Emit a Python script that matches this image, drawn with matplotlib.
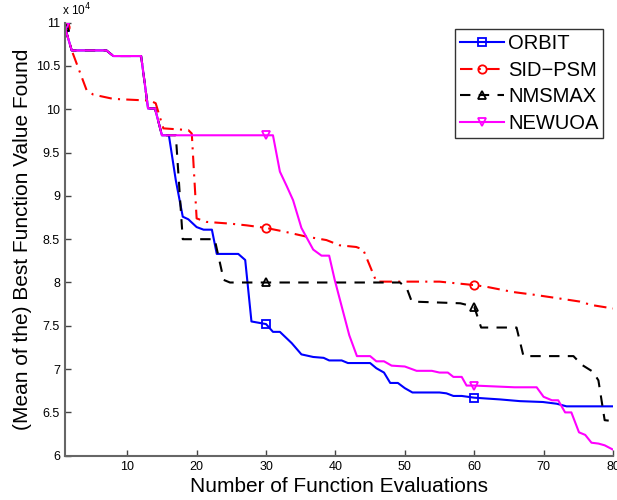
import matplotlib
matplotlib.use("Agg")
import matplotlib.pyplot as plt

plt.rcParams['font.family'] = ['Liberation Sans', 'DejaVu Sans']

# values in units of 1e4
orbit_x = [1, 2, 7, 8, 12, 13, 14, 15, 16, 17, 18, 18.8, 20, 21, 22.2, 22.9, 26, 27, 27.9, 30, 31, 32, 33.7,
           35.1, 36.8, 38.3, 39.1, 40.9, 41.8, 45, 45.9, 47, 47.9, 49, 50, 51.1, 55, 56, 57, 58.2, 60, 61.8,
           63.7, 66.6, 69.9, 71.9, 73.3, 80]
orbit_y = [10.95, 10.68, 10.68, 10.615, 10.615, 10.01, 10.01, 9.70, 9.70, 9.18, 8.76, 8.73, 8.64, 8.61, 8.61,
           8.33, 8.33, 8.26, 7.55, 7.52, 7.43, 7.43, 7.30, 7.17, 7.14, 7.13, 7.10, 7.10, 7.07, 7.07, 7.01,
           6.96, 6.84, 6.84, 6.78, 6.73, 6.73, 6.72, 6.69, 6.69, 6.67, 6.66, 6.65, 6.63, 6.62, 6.60, 6.57, 6.57]

sid_x = [1, 2, 4.15, 5.1, 8, 13.3, 14.1, 15.2, 18.8, 19.3, 20, 21.4, 24.8, 27.2, 30, 32.5, 35.8, 38.7, 40.6,
         43, 44, 45.9, 55, 60, 61.8, 65.6, 68.5, 71.9, 75.2, 76.9, 80]
sid_y = [10.95, 10.68, 10.22, 10.17, 10.12, 10.10, 10.07, 9.78, 9.76, 9.72, 8.74, 8.70, 8.68, 8.66, 8.63,
         8.59, 8.53, 8.49, 8.43, 8.41, 8.38, 8.01, 8.01, 7.97, 7.95, 7.89, 7.86, 7.82, 7.78, 7.74, 7.70]

nms_x = [1, 2, 7, 8, 12, 13, 14, 15, 17, 18, 22.6, 23.9, 24.8, 30, 49.3, 50.3, 51, 58, 60, 61, 66.1, 67.1,
         74.3, 75.5, 77.1, 77.9, 78.8, 80]
nms_y = [10.95, 10.68, 10.68, 10.615, 10.615, 10.01, 10.01, 9.70, 9.70, 8.50, 8.50, 8.03, 8.00, 8.00, 8.00,
         7.93, 7.78, 7.76, 7.72, 7.48, 7.48, 7.15, 7.15, 7.05, 6.97, 6.87, 6.41, 6.40]

newuoa_x = [1, 2, 7, 8, 12, 13, 14, 15, 30, 31, 32, 33, 33.9, 35.1, 36.8, 38, 39.1, 39.9, 42, 43.1, 45,
            45.9, 47, 48.1, 50, 51.7, 53.9, 55, 56.2, 57, 58.2, 58.9, 60, 65.8, 69, 70, 71.2, 72.1, 73.1,
            74, 75.1, 76, 76.9, 77.9, 78.8, 80]
newuoa_y = [10.95, 10.68, 10.68, 10.615, 10.615, 10.01, 10.01, 9.70, 9.70, 9.70, 9.28, 9.11, 8.95, 8.63,
            8.38, 8.31, 8.31, 8.03, 7.39, 7.15, 7.15, 7.09, 7.09, 7.04, 7.03, 6.98, 6.98, 6.96, 6.96, 6.91,
            6.91, 6.81, 6.81, 6.79, 6.79, 6.68, 6.64, 6.64, 6.50, 6.50, 6.27, 6.24, 6.15, 6.14, 6.12, 6.07]

series = [
    ('ORBIT', orbit_x, orbit_y, '#0000ff', '-', 's'),
    ('SID\u2212PSM', sid_x, sid_y, '#ff0000', (0, (6, 3, 1, 3)), 'o'),
    ('NMSMAX', nms_x, nms_y, '#000000', (0, (5, 4)), '^'),
    ('NEWUOA', newuoa_x, newuoa_y, '#ff00ff', '-', 'v'),
]
marker_at = [1, 30, 60]

fig = plt.figure(figsize=(6.17, 5.0), dpi=100)
ax = fig.add_axes([0.105, 0.0886, 0.8885, 0.866])

for name, xs, ys, col, ls, mk in series:
    idx = [xs.index(m) for m in marker_at if m in xs]
    ax.plot(xs, ys, color=col, linestyle=ls, linewidth=1.5, marker=mk, markevery=idx,
            markersize=6, markerfacecolor='none', markeredgecolor=col, markeredgewidth=1.3,
            label=name)

ax.set_xlim(1, 80)
ax.set_ylim(6, 11)
ax.set_xticks([10, 20, 30, 40, 50, 60, 70, 80])
yt = [6, 6.5, 7, 7.5, 8, 8.5, 9, 9.5, 10, 10.5, 11]
ax.set_yticks(yt)
ax.set_yticklabels([('%g' % v) for v in yt])
ax.tick_params(direction='in', length=4, labelsize=9, color='#444444', width=1)
for s in ['top', 'right']:
    ax.spines[s].set_visible(False)
for s in ['left', 'bottom']:
    ax.spines[s].set_color('#666666')
    ax.spines[s].set_linewidth(1.5)

ax.text(-0.005, 1.01, 'x 10$^4$', transform=ax.transAxes, fontsize=8.5, ha='left', va='bottom')

ax.set_xlabel('Number of Function Evaluations', fontsize=15, labelpad=3)
ax.set_ylabel('(Mean of the) Best Function Value Found', fontsize=15, labelpad=3)

leg = ax.legend(loc='upper right', bbox_to_anchor=(0.99, 0.995), fontsize=14.5, frameon=True,
                fancybox=False, edgecolor='black', handlelength=2.2, handletextpad=0.2,
                borderpad=0.25, labelspacing=0.38, borderaxespad=0.2)
leg.get_frame().set_linewidth(1.0)

fig.savefig('out.png', dpi=100)
